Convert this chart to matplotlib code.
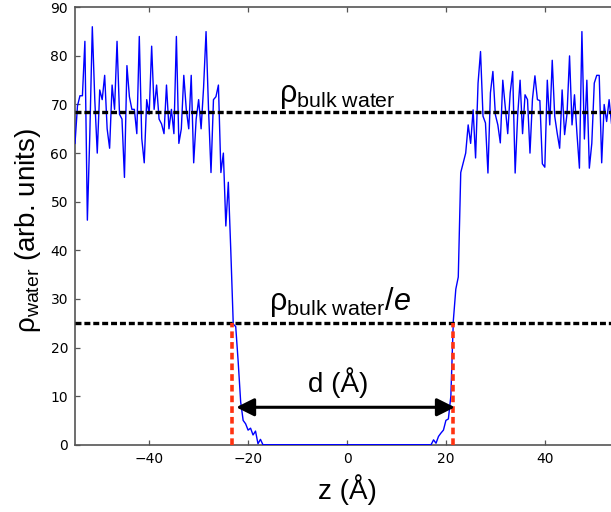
import numpy as np
import matplotlib
matplotlib.use("Agg")
import matplotlib.pyplot as plt

plt.rcParams['mathtext.fontset'] = 'custom'
plt.rcParams['mathtext.rm'] = 'Liberation Sans'
plt.rcParams['mathtext.it'] = 'Liberation Sans:italic'
plt.rcParams['mathtext.bf'] = 'Liberation Sans:bold'
plt.rcParams['lines.scale_dashes'] = False

# ---- data (density profile, sampled every 0.5 Angstrom from -55 to 55) ----
z_start, z_step = -55.0, 0.5
left_bulk = [62, 69.7, 71.8, 71.8, 83, 46.2, 64, 86, 71, 60, 73, 71, 76, 65, 61, 74,
             69, 83, 68, 67, 55, 78, 71.6, 69, 69, 64, 84, 63, 58, 71, 68, 82,
             69, 74, 67, 66, 64, 74, 65, 69, 64, 84, 62, 65, 76, 69, 65, 76,
             58, 67, 71, 65, 73.5, 85, 69, 56, 71, 71.6, 74, 56, 60, 45, 54, 40]
left_edge = [24.8, 24.3, 17, 8.8, 5, 4.3, 3, 3.4, 2, 2.8, 0.2, 1.1, 0]
core = [0, 0, 0, 0, 0, 0, 0, 0, 0, 0, 0, 0, 0, 0, 0, 0, 0, 0, 0, 0, 0, 0,
        0, 0, 0, 0, 0, 0, 0, 0, 0, 0, 0, 0, 0, 0, 0, 0, 0, 0, 0, 0, 0, 0,
        0, 0, 0, 0, 0, 0, 0, 0, 0, 0, 0, 0, 0, 0, 0, 0, 0, 0, 0, 0, 0, 0, 0]
right_edge = [0, 1.0, 0.3, 1.7, 2.4, 3.0, 5.0, 5.3, 10, 25.5, 32, 34.5]
right_bulk = [56, 58, 60, 65.8, 62, 68.9, 59, 74.4, 80.9, 67.6, 66.2, 55.9, 72.4,
              76.8, 67.9, 65.8, 62.1, 75, 69.6, 64, 72.4, 76.8, 55.9, 67.6, 75,
              64, 72, 71, 60, 71.1, 75.9, 71, 70.8, 57.8, 57.1, 75, 65.8, 79.1,
              67.6, 64.1, 61, 73, 63.8, 68.2, 80, 65.8, 72, 64, 56.9, 85, 62.9,
              75, 56.9, 62, 74.4, 76, 76, 58, 70, 66.5, 71, 66, 67, 70, 68]

rho = np.array(left_bulk + left_edge + core + right_edge + right_bulk, dtype=float)
z = z_start + z_step * np.arange(len(rho))

rho_bulk = 68.5
rho_e = 25.0
z_left = -23.2
z_right = 21.5
arrow_y = 7.7
xlim = (-55, 55)
ylim = (0, 90)
xticks = [-40, -20, 0, 20, 40]
yticks = [0, 10, 20, 30, 40, 50, 60, 70, 80, 90]

# ---- figure ----
fig = plt.figure(figsize=(6.11, 5.12), dpi=100)
ax = fig.add_axes([75/611, 67.3/512, 544/611, 437.4/512])

ax.plot(z, rho, color='#0000ff', lw=1.0, zorder=3)

ax.axhline(rho_bulk, color='black', lw=2.4, dashes=(4.3, 2.1), zorder=4)
ax.axhline(rho_e, color='black', lw=2.4, dashes=(4.3, 2.1), zorder=4)

for zz in (z_left, z_right):
    ax.plot([zz, zz], [0, rho_e], color='#ff3311', lw=2.6, dashes=(4.8, 2.9), zorder=5)

ax.annotate('', xy=(z_right + 0.3, arrow_y), xytext=(z_left + 0.8, arrow_y),
            arrowprops=dict(arrowstyle='<|-|>,head_length=0.4,head_width=0.2',
                            lw=2.2, color='black', mutation_scale=27,
                            shrinkA=0, shrinkB=0), zorder=6)

tfont = dict(family='Liberation Sans')
ax.text(-2, 70.6, r'$\mathrm{\rho_{bulk\ water}}$', fontsize=22, ha='center',
        va='baseline', **tfont)
ax.text(-1.5, 27.8, r'$\mathrm{\rho_{bulk\ water}}/e$', fontsize=22, ha='center',
        va='baseline', **tfont)
ax.text(-1.7, 12.8, 'd (Å)', fontsize=20, ha='center', va='center', **tfont)

ax.set_xlim(*xlim)
ax.set_ylim(*ylim)
ax.set_xticks(xticks)
ax.set_yticks(yticks)
ax.tick_params(direction='in', length=3.5, width=0.9, color='#555555',
               top=True, right=True, labelsize=10, pad=5)
for s in ax.spines.values():
    s.set_color('#555555')
    s.set_linewidth(1.2)

ax.set_xlabel('z (Å)', fontsize=20, family='Liberation Sans')
ax.xaxis.set_label_coords(0.5, -0.1036)
ax.xaxis.label.set_va('center')
ax.set_ylabel(r'$\mathrm{\rho_{water}}$ (arb. units)', fontsize=20, family='Liberation Sans')
ax.yaxis.set_label_coords(-0.0864, 0.49)
ax.yaxis.label.set_va('center')

fig.savefig('out.png', dpi=100)
